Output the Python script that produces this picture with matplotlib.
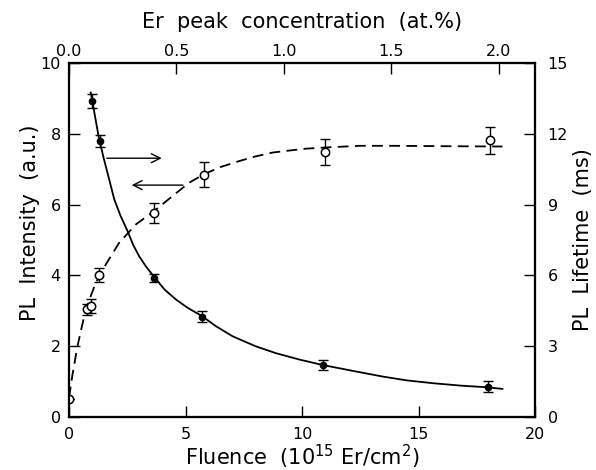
import matplotlib
matplotlib.use("Agg")
import matplotlib.pyplot as plt

# PL intensity (a.u.) vs Er fluence (1e15 Er/cm2)
intensity_fluence = [0.0, 0.79, 0.93, 1.29, 3.66, 5.8, 11.0, 18.06]
intensity = [0.51, 3.04, 3.14, 4.01, 5.77, 6.84, 7.48, 7.82]
intensity_err = [0.0, 0.15, 0.2, 0.21, 0.28, 0.35, 0.37, 0.38]

# PL lifetime (ms) vs fluence
lifetime_fluence = [1.0, 1.33, 3.66, 5.7, 10.9, 18.0]
lifetime = [13.4, 11.7, 5.9, 4.25, 2.2, 1.28]
lifetime_err = [0.3, 0.25, 0.17, 0.22, 0.22, 0.23]

# guide-to-the-eye curves
intensity_fit_x = [0.0, 0.15, 0.36, 0.55, 0.72, 0.95, 1.15, 1.58, 2.15, 2.87,
                   3.66, 4.44, 5.16, 5.8, 6.5, 7.31, 8.0, 8.74, 9.5, 10.18,
                   11.2, 12.5, 14.0, 16.0, 18.6]
intensity_fit_y = [0.55, 1.2, 1.99, 2.55, 3.03, 3.45, 3.79, 4.31, 4.92, 5.44,
                   5.82, 6.24, 6.62, 6.86, 7.06, 7.23, 7.36, 7.47, 7.53, 7.58,
                   7.62, 7.66, 7.66, 7.65, 7.64]
lifetime_fit_x = [0.93, 1.0, 1.15, 1.29, 1.5, 1.72, 1.94, 2.2, 2.51, 2.75,
                  3.01, 3.3, 3.66, 4.1, 4.6, 5.1, 5.7, 6.3, 7.02, 8.0,
                  8.89, 9.9, 10.9, 12.2, 13.48, 14.5, 15.63, 16.8, 17.92, 18.6]
lifetime_fit_y = [13.75, 13.4, 12.55, 11.78, 10.92, 10.08, 9.23, 8.55, 7.88, 7.3,
                  6.81, 6.38, 5.93, 5.4, 4.97, 4.62, 4.28, 3.85, 3.42, 3.0,
                  2.70, 2.43, 2.2, 1.95, 1.71, 1.55, 1.43, 1.33, 1.26, 1.19]

# Er peak concentration (at.%) per unit fluence
CONC_PER_FLUENCE = 2.0 / 18.45

plt.rcParams["font.family"] = ["DejaVu Sans"]
TICK_FS = 11.5
LABEL_FS = 15

fig = plt.figure(figsize=(5.96, 4.70), dpi=100)
ax = fig.add_axes([0.1158, 0.1128, 0.7819, 0.7532])
ax2 = ax.twinx()
top = ax.twiny()

ax.plot(intensity_fit_x, intensity_fit_y, color="black", lw=1.3,
        linestyle=(0, (6, 3.5)))
ax.errorbar(intensity_fluence, intensity, yerr=intensity_err, fmt="none",
            ecolor="black", elinewidth=1.0, capsize=3.5, capthick=1.0)
ax.plot(intensity_fluence, intensity, "o", ms=6, mfc="white", mec="black",
        mew=1.1, zorder=5)

ax2.plot(lifetime_fit_x, lifetime_fit_y, color="black", lw=1.3)
ax2.errorbar(lifetime_fluence, lifetime, yerr=lifetime_err, fmt="o", ms=4.5,
             color="black", ecolor="black", elinewidth=1.0, capsize=3.5,
             capthick=1.0)

# arrows pointing each curve to its axis
ax.annotate("", xy=(3.98, 7.31), xytext=(1.62, 7.31),
            arrowprops=dict(arrowstyle="->", lw=1.0, color="black",
                            mutation_scale=16, shrinkA=0, shrinkB=0))
ax.annotate("", xy=(2.69, 6.55), xytext=(4.89, 6.55),
            arrowprops=dict(arrowstyle="->", lw=1.0, color="black",
                            mutation_scale=16, shrinkA=0, shrinkB=0))

ax.set_xlim(0, 20)
ax.set_ylim(0, 10)
ax2.set_ylim(0, 15)
top.set_xlim(0, 20 * CONC_PER_FLUENCE)
ax.set_xticks([0, 5, 10, 15, 20])
ax.set_yticks([0, 2, 4, 6, 8, 10])
ax2.set_yticks([0, 3, 6, 9, 12, 15])
top.set_xticks([0.0, 0.5, 1.0, 1.5, 2.0])
top.set_xticklabels(["0.0", "0.5", "1.0", "1.5", "2.0"])

for a in (ax, ax2, top):
    for s in a.spines.values():
        s.set_linewidth(1.5)
ax.tick_params(axis="x", direction="in", length=8, width=1.0, pad=7,
               labelsize=TICK_FS)
ax.tick_params(axis="y", direction="in", length=8, width=1.0, pad=6,
               labelsize=TICK_FS)
ax2.tick_params(axis="y", direction="in", length=8, width=1.0, pad=9,
                labelsize=TICK_FS)
top.tick_params(axis="x", direction="in", length=8, width=1.0, pad=3,
                labelsize=TICK_FS)

ax.set_xlabel("Fluence  (10$^{15}$ Er/cm$^{2}$)", fontsize=LABEL_FS)
ax.set_ylabel("PL  Intensity  (a.u.)", fontsize=LABEL_FS)
ax2.set_ylabel("PL  Lifetime  (ms)", fontsize=LABEL_FS)
top.set_xlabel("Er  peak  concentration  (at.%)", fontsize=LABEL_FS)

ax.xaxis.set_label_coords(0.5, -0.073)
ax.yaxis.set_label_coords(-0.062, 0.55)
ax2.yaxis.set_label_coords(1.0815, 0.5)
top.xaxis.set_label_coords(0.5, 1.10)

fig.savefig("out.png", dpi=100)
